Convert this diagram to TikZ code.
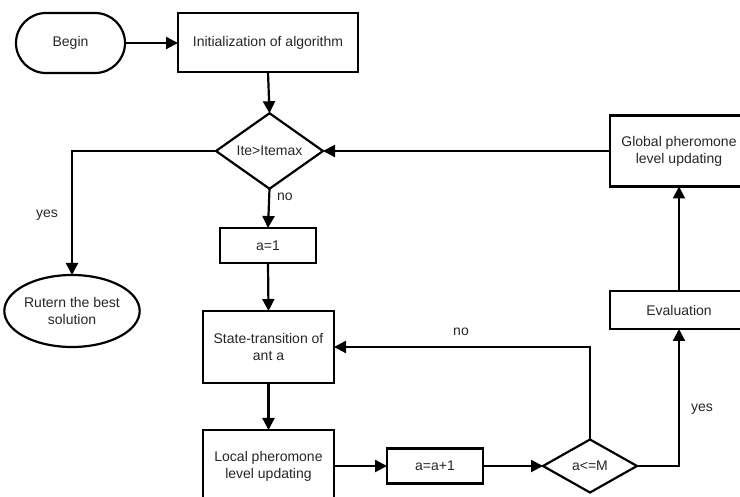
\documentclass[tikz,border=0pt]{standalone}
\usepackage{fontspec}
\setmainfont{Liberation Sans}
\usetikzlibrary{arrows.meta,shapes.geometric,positioning}
\begin{document}
\begin{tikzpicture}[x=1pt,y=-1pt,
  font=\fontsize{14}{17}\selectfont,
  every node/.style={inner sep=0pt, outer sep=0pt, align=center, text=black!85},
  procbox/.style={draw, line width=2.2pt, rectangle},
  termbox/.style={draw, line width=2.2pt, rectangle, rounded corners=30pt},
  endbox/.style={draw, line width=2.2pt, ellipse},
  decision/.style={draw, line width=2.2pt, diamond},
  flow/.style={line width=2.2pt, -{Triangle[length=12pt,width=12pt]}},
  lbl/.style={text=black!85}]
  \useasboundingbox (0,0) rectangle (740,497);

  % nodes
  \node[termbox, minimum width=109pt, minimum height=60pt] (begin) at (70.5,43) {Begin};
  \node[procbox, minimum width=180pt, minimum height=59pt] (init) at (268,42.5) {Initialization of algorithm};
  \node[decision, minimum width=107pt, minimum height=67pt] (ite) at (269.5,151) {Ite>Itemax};
  \node[endbox, minimum width=120pt, minimum height=72pt] (ret) at (72,311) {Rutern the best\\solution};
  \node[procbox, minimum width=96pt, minimum height=35pt] (a1) at (268,245.5) {a=1};
  \node[procbox, minimum width=131pt, minimum height=72pt] (state) at (268.5,347) {State-transition of\\ant a};
  \node[procbox, minimum width=131pt, minimum height=72pt] (local) at (268.5,466) {Local pheromone\\level updating};
  \node[procbox, minimum width=96pt, minimum height=35pt] (inc) at (435,466) {a=a+1};
  \node[decision, minimum width=94pt, minimum height=53pt] (cmp) at (590,466) {a<=M};
  \node[procbox, minimum width=138pt, minimum height=38pt] (eval) at (679,310) {Evaluation};
  \node[procbox, minimum width=138pt, minimum height=71pt] (global) at (679,151) {Global pheromone\\level updating};

  % connectors
  \draw[flow] (begin.east) -- (begin.east -| init.west);
  \draw[flow] (init.south) -- (ite.north);
  \draw[flow] (ite.west) -| (ret.north);
  \draw[flow] (ite.south) -- (a1.north);
  \draw[flow] (a1.south) -- (state.north);
  \draw[flow] (state.south) -- (local.north);
  \draw[flow] (local.east |- inc.west) -- (inc.west);
  \draw[flow] (inc.east) -- (cmp.west);
  \draw[flow] (cmp.north) |- (state.east);
  \draw[flow] (cmp.east) -| (eval.south);
  \draw[flow] (eval.north) -- (global.south);
  \draw[flow] (global.west) -- (ite.east);

  % branch labels
  \node[lbl] (yesl) at (47,215) {yes};
  \node[lbl] (nol) at (285,197) {no};
  \node[lbl] (nor) at (461,332) {no};
  \node[lbl] (yesr) at (702,409) {yes};
\end{tikzpicture}
\end{document}
